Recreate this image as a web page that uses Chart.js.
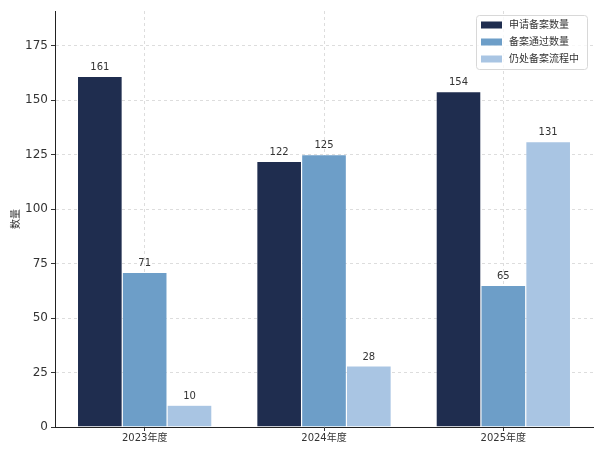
<!DOCTYPE html>
<html>
<head>
<meta charset="utf-8">
<script src="https://cdn.jsdelivr.net/npm/chart.js@4/dist/chart.umd.min.js"></script>
<style>
  html, body { margin: 0; padding: 0; background: #fff; }
  #wrap { width: 605px; height: 454px; }
</style>
</head>
<body>
<div id="wrap"><canvas id="barChart"></canvas></div>
<script>
// data
const categories = ['2023年度', '2024年度', '2025年度'];
const seriesNames = ['申请备案数量', '备案通过数量', '仍处备案流程中'];
const appliedValues = [161, 122, 154];
const approvedValues = [71, 125, 65];
const pendingValues = [10, 28, 131];
const seriesColors = ['#1f2d4f', '#6d9ec8', '#a9c5e3'];
const yTicks = [0, 25, 50, 75, 100, 125, 150, 175];

const FONT = '"DejaVu Sans", "Noto Sans CJK SC", sans-serif';

// numbers above bars
const valueLabels = {
    id: 'valueLabels',
    afterDatasetsDraw(chart) {
        const ctx = chart.ctx;
        ctx.save();
        ctx.font = '10px ' + FONT;
        ctx.fillStyle = '#333';
        ctx.textAlign = 'center';
        ctx.textBaseline = 'bottom';
        chart.data.datasets.forEach((ds, i) => {
            chart.getDatasetMeta(i).data.forEach((bar, j) => {
                ctx.fillText(String(ds.data[j]), bar.x, bar.y - 4);
            });
        });
        ctx.restore();
    }
};

// legend box inside the plot, upper right
const innerLegend = {
    id: 'innerLegend',
    afterDraw(chart) {
        const ctx = chart.ctx;
        const area = chart.chartArea;
        const boxW = 111, boxH = 54;
        const x0 = area.right - boxW - 6;
        const y0 = area.top + 4;
        ctx.save();
        ctx.fillStyle = 'rgba(255,255,255,0.8)';
        ctx.strokeStyle = '#d8d8d8';
        ctx.lineWidth = 1;
        ctx.beginPath();
        ctx.roundRect(x0 + 0.5, y0 + 0.5, boxW, boxH, 3);
        ctx.fill();
        ctx.stroke();
        ctx.font = '10px ' + FONT;
        ctx.textBaseline = 'middle';
        ctx.textAlign = 'left';
        chart.data.datasets.forEach((ds, i) => {
            const cy = y0 + 10 + i * 17;
            ctx.fillStyle = ds.backgroundColor;
            ctx.fillRect(x0 + 5, cy - 3.5, 21, 7);
            ctx.fillStyle = '#333';
            ctx.fillText(ds.label, x0 + 33, cy);
        });
        ctx.restore();
    }
};

const valueSets = [appliedValues, approvedValues, pendingValues];

const barChartData = {
    labels: categories,
    datasets: valueSets.map((vals, i) => ({
        label: seriesNames[i],
        data: vals,
        backgroundColor: seriesColors[i],
        borderColor: 'rgba(255,255,255,0.35)',
        borderWidth: 0.6,
        borderSkipped: 'bottom',
        categoryPercentage: 0.75,
        barPercentage: 1.0,
    })),
};

const barChartConfig = {
    type: 'bar',
    data: barChartData,
    options: {
        responsive: true,
        maintainAspectRatio: false,
        animation: false,
        layout: {
            padding: { top: 11, right: 12, left: 0, bottom: 0 }
        },
        plugins: {
            legend: { display: false },
            title: { display: false },
            tooltip: { enabled: false },
        },
        scales: {
            x: {
                offset: true,
                grid: {
                    offset: false,
                    color: '#dddddd',
                    tickColor: '#333',
                    tickLength: 4,
                },
                border: { display: true, color: '#222', width: 1, dash: [3, 3] },
                ticks: {
                    color: '#333',
                    font: { family: FONT, size: 10 },
                    padding: 1,
                },
                afterFit(scale) { scale.height = 27; },
            },
            y: {
                min: 0,
                max: 191,
                afterBuildTicks(scale) {
                    scale.ticks = yTicks.map(v => ({ value: v }));
                },
                grid: {
                    color: '#dddddd',
                    tickColor: '#333',
                    tickLength: 4,
                },
                border: { display: true, color: '#222', width: 1, dash: [3, 3] },
                ticks: {
                    color: '#333',
                    font: { family: FONT, size: 12 },
                    padding: 3,
                },
                title: {
                    display: true,
                    text: '数量',
                    color: '#333',
                    font: { family: FONT, size: 10 },
                    padding: { top: 10, bottom: 0 },
                },
                afterFit(scale) { scale.width = 55; },
            },
        },
    },
    plugins: [valueLabels, innerLegend],
};

new Chart(document.getElementById('barChart').getContext('2d'), barChartConfig);
</script>
</body>
</html>
